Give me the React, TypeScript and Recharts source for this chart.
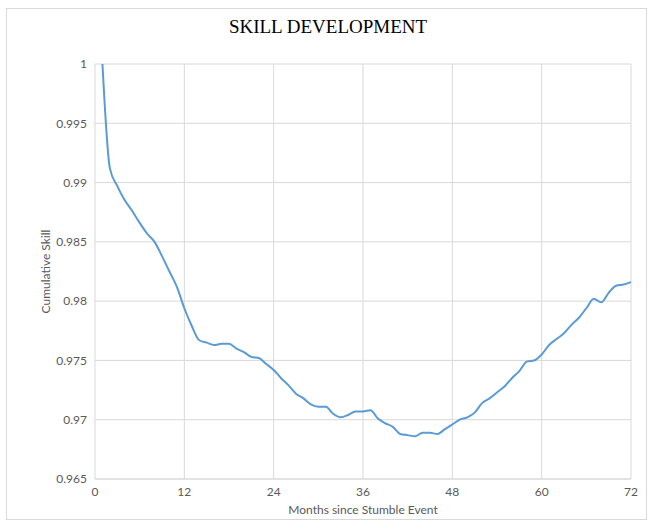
import { LineChart, Line, XAxis, YAxis, CartesianGrid } from "recharts";

const months = [
  1, 2, 3, 4, 5, 6, 7, 8, 9, 10, 11, 12, 13, 14, 15, 16, 17, 18, 19, 20, 21, 22, 23, 24,
  25, 26, 27, 28, 29, 30, 31, 32, 33, 34, 35, 36, 37, 38, 39, 40, 41, 42, 43, 44, 45, 46, 47, 48,
  49, 50, 51, 52, 53, 54, 55, 56, 57, 58, 59, 60, 61, 62, 63, 64, 65, 66, 67, 68, 69, 70, 71, 72,
];

const skill = [
  1.0, 0.9912, 0.9897, 0.9885, 0.9876, 0.9866, 0.9857, 0.985, 0.9838, 0.9825, 0.9812, 0.9794,
  0.9779, 0.9767, 0.9765, 0.9763, 0.9764, 0.9764, 0.976, 0.9757, 0.9753, 0.9752, 0.9747, 0.9742,
  0.9735, 0.9729, 0.9722, 0.9718, 0.9713, 0.9711, 0.9711, 0.9705, 0.9702, 0.9704, 0.9707, 0.9707,
  0.9708, 0.9701, 0.9697, 0.9694, 0.9688, 0.9687, 0.9686, 0.9689, 0.9689, 0.9688, 0.9692, 0.9696,
  0.97, 0.9702, 0.9706, 0.9714, 0.9718, 0.9723, 0.9728, 0.9735, 0.9741, 0.9749, 0.975, 0.9755,
  0.9763, 0.9768, 0.9773, 0.978, 0.9786, 0.9794, 0.9802, 0.9799, 0.9807, 0.9813, 0.9814, 0.9816,
];

const xTicks = [0, 12, 24, 36, 48, 60, 72];
const yTicks = [0.965, 0.97, 0.975, 0.98, 0.985, 0.99, 0.995, 1];

const data = months.map((m, i) => ({ month: m, skill: skill[i] }));

const tickStyle = { fill: "#595959", fontSize: 12, fontFamily: "Lato, 'Open Sans', sans-serif" };

export default function App() {
  return (
    <div style={{ position: "absolute", left: 0, top: 0, width: 656, height: 529, background: "#fff" }}>
      <div
        style={{
          position: "absolute",
          left: 6,
          top: 8,
          width: 641,
          height: 512,
          border: "1px solid #d9d9d9",
          boxSizing: "border-box",
        }}
      />
      <div
        style={{
          position: "absolute",
          left: 0,
          top: 16,
          width: 656,
          textAlign: "center",
          fontFamily: "'Liberation Serif', 'DejaVu Serif', serif",
          fontSize: 19,
          color: "#000",
        }}
      >
        SKILL DEVELOPMENT
      </div>
      <div style={{ position: "absolute", left: 0, top: 0 }}>
        <LineChart width={656} height={529} data={data} margin={{ top: 64, right: 25, bottom: 10, left: 41 }}>
          <CartesianGrid stroke="#d9d9d9" strokeWidth={1} />
          <XAxis
            dataKey="month"
            type="number"
            domain={[0, 72]}
            ticks={xTicks}
            height={40}
            tickLine={false}
            axisLine={{ stroke: "#d9d9d9" }}
            tick={tickStyle}
            label={{
              value: "Months since Stumble Event",
              position: "insideBottom",
              offset: 5,
              style: tickStyle,
            }}
          />
          <YAxis
            type="number"
            domain={[0.965, 1]}
            ticks={yTicks}
            width={54}
            tickLine={false}
            axisLine={false}
            tick={tickStyle}
            label={{
              value: "Cumulative Skill",
              angle: -90,
              position: "insideLeft",
              offset: 5,
              style: { ...tickStyle, textAnchor: "middle" },
            }}
          />
          <Line
            dataKey="skill"
            type="monotone"
            stroke="#5b9bd5"
            strokeWidth={2}
            dot={false}
            isAnimationActive={false}
          />
        </LineChart>
      </div>
    </div>
  );
}
